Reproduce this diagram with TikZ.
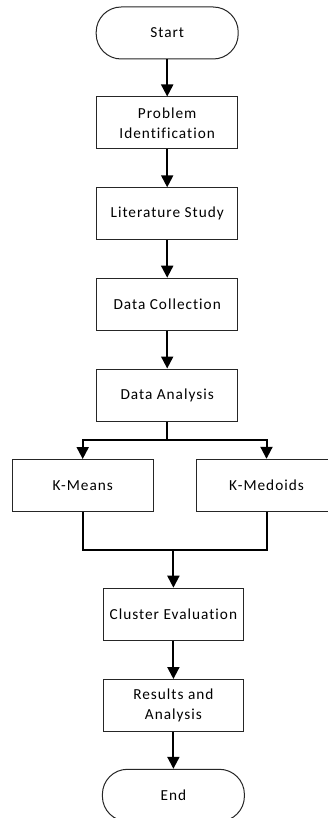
\documentclass[tikz,border=0pt]{standalone}
\usepackage{fontspec}
\setmainfont[LetterSpace=6.5,Ligatures=NoCommon]{Carlito}
\usetikzlibrary{arrows.meta}
\begin{document}
\begin{tikzpicture}[x=1pt,y=-1pt,
  every node/.style={font=\fontsize{15.3}{19.5}\selectfont, align=center, inner sep=0pt},
  procbox/.style={draw=black!85, line width=1pt, minimum width=141pt, minimum height=52pt},
  termbox/.style={draw=black!85, line width=1pt, minimum width=142pt, minimum height=52pt, rounded corners=25pt},
  conn/.style={line width=2pt, draw=black},
  arr/.style={conn, -{Triangle[length=12pt,width=12pt]}}]
\useasboundingbox (0,0) rectangle (327,818);
\fill[white] (0,0) rectangle (327,818);
\node[termbox] (start) at (167.2,33) {Start};
\node[procbox] (prob) at (167.2,123) {Problem\\Identification};
\node[procbox] (lit) at (167.2,213.8) {Literature Study};
\node[procbox] (coll) at (167.2,304.2) {Data Collection};
\node[procbox] (anal) at (167.2,395) {Data Analysis};
\node[procbox] (km) at (82.7,485.5) {K-Means};
\node[procbox] (kmed) at (266.5,485.3) {K-Medoids};
\node[procbox, minimum width=140pt] (clus) at (173.4,614.2) {Cluster Evaluation};
\node[procbox, minimum width=140pt] (res) at (173.4,705.5) {Results and\\Analysis};
\node[termbox] (end) at (173.4,795.3) {End};
\coordinate (split) at (anal.south |- 0,440);
\coordinate (merge) at (173.4,550);
\draw[arr] (start) -- (prob);
\draw[arr] (prob) -- (lit);
\draw[arr] (lit) -- (coll);
\draw[arr] (coll) -- (anal);
\draw[conn] (anal) -- (split);
\draw[arr] (split) -| (km);
\draw[arr] (split) -| (kmed);
\draw[conn] (km.south) |- (merge);
\draw[conn] (kmed.south) |- (merge);
\draw[arr] (merge) -- (clus);
\draw[arr] (clus) -- (res);
\draw[arr] (res) -- (end);
\end{tikzpicture}
\end{document}
